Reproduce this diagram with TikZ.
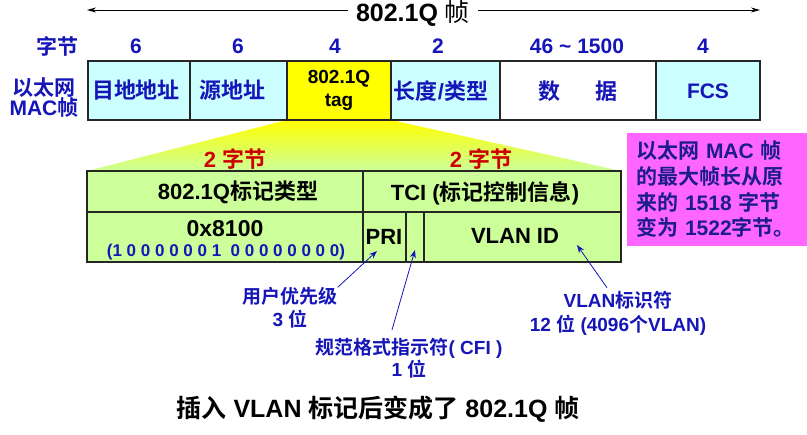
\documentclass[tikz,border=0pt]{standalone}
\usepackage{fontspec}
\setmainfont{Liberation Sans}
\newfontfamily\cjk{Noto Sans CJK SC}[BoldFont={Noto Sans CJK SC Bold}]
\newcommand{\zh}[1]{{\cjk #1}}
\usetikzlibrary{arrows.meta}

\definecolor{paleblue}{HTML}{CCFFFF}
\definecolor{palegreen}{HTML}{CCFF99}
\definecolor{tagyellow}{HTML}{FFFF00}
\definecolor{notepink}{HTML}{FF66FF}
\definecolor{labelblue}{HTML}{1515B8}
\definecolor{notenavy}{HTML}{1C1C8C}
\definecolor{bytered}{HTML}{CC0000}

\tikzset{
  fieldline/.style={draw=black!85, line width=1.2pt},
  fieldtext/.style={text=labelblue, font=\bfseries\fontsize{22}{26}\selectfont},
  bytecount/.style={text=labelblue, font=\bfseries\fontsize{21}{24}\selectfont},
  celltext/.style={font=\bfseries\fontsize{22}{26}\selectfont},
  bytelen/.style={text=bytered, font=\bfseries\fontsize{22}{26}\selectfont},
  notelabel/.style={text=labelblue, align=center, font=\bfseries\fontsize{19}{23}\selectfont},
  pointer/.style={draw=labelblue, line width=0.8pt, -{Stealth[length=8pt,width=6pt]}},
  spanarrow/.style={draw=black, line width=0.8pt, -{Stealth[length=9pt,width=5pt]}}
}

\begin{document}
\begin{tikzpicture}[x=1pt, y=-1pt, every node/.style={inner sep=0pt}]
  \useasboundingbox (0,0) rectangle (807,435);

  % whole frame
  \node[font=\bfseries\fontsize{25}{28}\selectfont, inner xsep=8pt] (title) at (413,13) {802.1Q {\mdseries\cjk 帧}};
  \coordinate (framestart) at (87,10);
  \coordinate (frameend) at (760,10);
  \draw[spanarrow] (title.west |- framestart) -- (framestart);
  \draw[spanarrow] (title.east |- frameend) -- (frameend);

  % byte counts
  \node[bytecount] (bytes) at (57,46) {\zh{字节}};
  \node[bytecount] (dstlen) at (136,46) {6};
  \node[bytecount] (srclen) at (238,46) {6};
  \node[bytecount] (taglen) at (335,46) {4};
  \node[bytecount] (typelen) at (438,46) {2};
  \node[bytecount] (datalen) at (577,46) {46 \textasciitilde{} 1500};
  \node[bytecount] (fcslen) at (703,46) {4};

  \node[bytecount, align=center, font=\bfseries\fontsize{21}{20}\selectfont] (macframe) at (44,98) {\zh{以太网}\\MAC\zh{帧}};

  % tag widened to the 4 tag bytes
  \shade[top color=tagyellow, bottom color=palegreen] (287,120) -- (391,120) -- (621,171) -- (87,171) -- cycle;

  % frame fields
  \draw[fieldline, fill=paleblue] (88,61) rectangle (190,120);
  \draw[fieldline, fill=paleblue] (190,61) rectangle (287,120);
  \draw[fieldline, fill=tagyellow] (287,61) rectangle (391,120);
  \draw[fieldline, fill=paleblue] (391,61) rectangle (500,120);
  \draw[fieldline, fill=white] (500,61) rectangle (656,120);
  \draw[fieldline, fill=paleblue] (656,61) rectangle (760,120);

  \node[fieldtext] (dstaddr) at (136,90) {\zh{目地地址}};
  \node[fieldtext] (srcaddr) at (232,90) {\zh{源地址}};
  \node[align=center, font=\bfseries\fontsize{19}{23}\selectfont] (tag) at (339,90.5) {802.1Q\\tag};
  \node[fieldtext] (lentype) at (441,91) {\zh{长度}/\zh{类型}};
  \node[fieldtext] (payload) at (578,91) {\zh{数}\hspace{36pt}\zh{据}};
  \node[fieldtext, font=\bfseries\fontsize{21}{26}\selectfont] (fcs) at (708,91) {FCS};

  % tag fields
  \node[bytelen] (tpidlen) at (235,159) {2 \zh{字节}};
  \node[bytelen] (tcilen) at (481,159) {2 \zh{字节}};

  \fill[palegreen] (87,171) rectangle (621,262);
  \draw[fieldline] (87,171) rectangle (621,262)
    (87,212) -- (621,212)
    (363,171) -- (363,262)
    (406,212) -- (406,262)
    (424,212) -- (424,262);

  \node[celltext] (tpid) at (238,192) {802.1Q\zh{标记类型}};
  \node[celltext] (tci) at (485,193) {TCI (\zh{标记控制信息})};
  \node[celltext, font=\bfseries\fontsize{23}{26}\selectfont] (tpidval) at (225,229) {0x8100};
  \node[text=labelblue, font=\bfseries\fontsize{17}{20}\selectfont] (tpidbits) at (226,252) {(1 0 0 0 0 0 0 1\ \ 0 0 0 0 0 0 0 0)};
  \node[celltext] (pri) at (384,237) {PRI};
  \node[celltext] (vid) at (515,236) {VLAN ID};

  % note
  \node[fill=notepink, minimum width=180, minimum height=113, text width=162, align=left,
        text=notenavy, font=\bfseries\fontsize{21}{25.7}\selectfont] (note) at (717,189.5)
    {\zh{以太网} MAC \zh{帧}\\\zh{的最大帧长从原}\\\zh{来的} 1518 \zh{字节}\\\zh{变为} 1522\zh{字节。}};

  % TCI bits
  \node[notelabel] (prilabel) at (290,308) {\zh{用户优先级}\\3 \zh{位}};
  \node[notelabel, font=\bfseries\fontsize{19}{22}\selectfont] (cfilabel) at (409,358) {\zh{规范格式指示符}( CFI )\\1 \zh{位}};
  \node[notelabel, font=\bfseries\fontsize{19}{24}\selectfont] (vidlabel) at (618,313) {VLAN\zh{标识符}\\12 \zh{位} (4096\zh{个}VLAN)};

  \coordinate (pritip) at (377,251);
  \coordinate (cfitip) at (415,250);
  \coordinate (vidtip) at (577,245);
  \draw[pointer] (prilabel.north east) -- (pritip);
  \draw[pointer] ([xshift=-17pt,yshift=8pt]cfilabel.north) -- (cfitip);
  \draw[pointer] ([xshift=-11pt,yshift=3pt]vidlabel.north) -- (vidtip);

  \node[font=\bfseries\fontsize{25}{28}\selectfont] (caption) at (378,409) {\zh{插入} VLAN \zh{标记后变成了} 802.1Q \zh{帧}};
\end{tikzpicture}
\end{document}
